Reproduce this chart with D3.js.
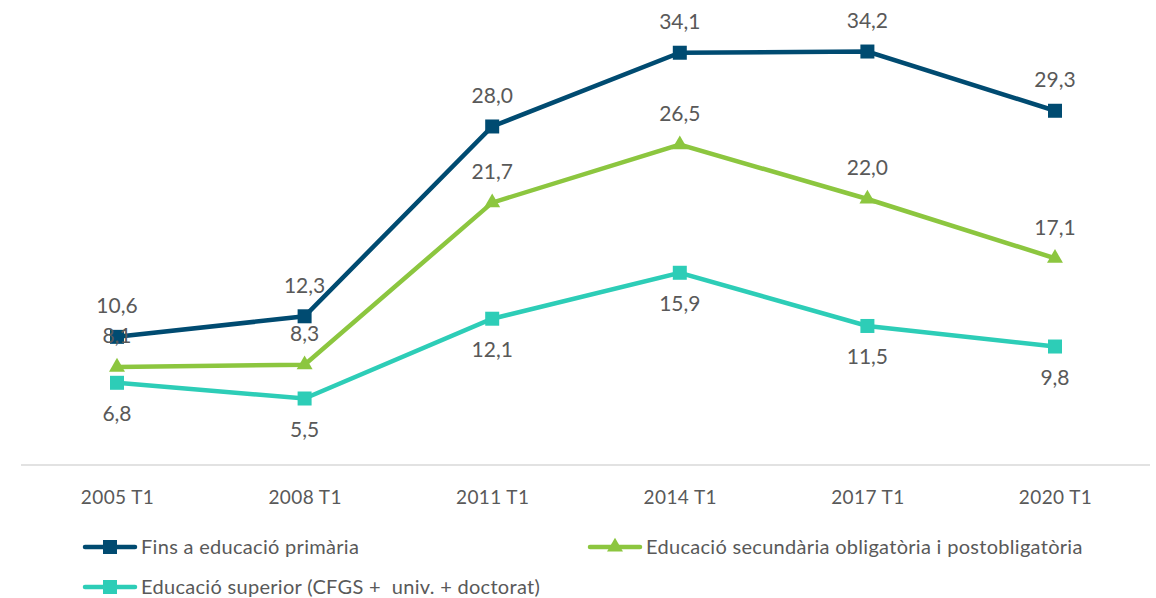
<!DOCTYPE html>
<html>
<head>
<meta charset="utf-8">
<script src="https://cdn.jsdelivr.net/npm/d3@7"></script>
<style>
  body { margin: 0; background: #fff; }
  text { font-family: Lato, "Open Sans", sans-serif; fill: #595959; }
</style>
</head>
<body>
<script>
var categories = ["2005 T1", "2008 T1", "2011 T1", "2014 T1", "2017 T1", "2020 T1"];
var primaria = [10.6, 12.3, 28.0, 34.1, 34.2, 29.3];
var secundaria = [8.1, 8.3, 21.7, 26.5, 22.0, 17.1];
var superior = [6.8, 5.5, 12.1, 15.9, 11.5, 9.8];

var seriesNames = [
  "Fins a educació primària",
  "Educació secundària obligatòria i postobligatòria",
  "Educació superior (CFGS +  univ. + doctorat)"
];

var width = 1156,
    height = 598;

var svg = d3.select("body").append("svg")
    .attr("width", width)
    .attr("height", height);

var x = d3.scalePoint()
    .domain(categories)
    .range([117, 1055]);

var y = d3.scaleLinear()
    .domain([0, 38])
    .range([465, 465 - 38 * 12.09]);

var fmt = function(v) { return d3.format(".1f")(v).replace(".", ","); };

// axis line
svg.append("line")
    .attr("x1", 21).attr("x2", 1150)
    .attr("y1", y(0)).attr("y2", y(0))
    .attr("stroke", "#d9d9d9")
    .attr("stroke-width", 1.5);

var xAxis = svg.append("g")
    .attr("transform", "translate(0," + y(0) + ")")
    .attr("font-family", null)
    .call(d3.axisBottom(x).tickSize(0).tickPadding(26));
xAxis.select(".domain").remove();
xAxis.selectAll("text")
    .style("font-size", "19px")
    .style("letter-spacing", "0.4px")
    .style("fill", "#595959");

var series = [
  { name: seriesNames[0], values: primaria, color: "#004b71", marker: "square", labelPos: [-1, -1, -1, -1, -1, -1] },
  { name: seriesNames[1], values: secundaria, color: "#8cc63f", marker: "triangle", labelPos: [-1, -1, -1, -1, -1, -1] },
  { name: seriesNames[2], values: superior, color: "#2dcdb7", marker: "square", labelPos: [1, 1, 1, 1, 1, 1] }
];

var line = d3.line()
    .x(function(d, i) { return x(categories[i]); })
    .y(function(d) { return y(d); });

function marker(g, type, color) {
  if (type === "square") {
    g.append("rect")
      .attr("x", -7).attr("y", -7)
      .attr("width", 14).attr("height", 14)
      .attr("fill", color);
  } else {
    g.append("path")
      .attr("d", d3.symbol().type(d3.symbolTriangle).size(110)())
      .attr("fill", color);
  }
}

// draw back to front so primària sits on top
series.slice().reverse().forEach(function(s) {
  svg.append("path")
    .datum(s.values)
    .attr("d", line)
    .attr("fill", "none")
    .attr("stroke", s.color)
    .attr("stroke-width", 4.5);

  s.values.forEach(function(v, i) {
    var g = svg.append("g")
      .attr("transform", "translate(" + x(categories[i]) + "," + y(v) + ")");
    marker(g, s.marker, s.color);
  });
});

series.forEach(function(s) {
  svg.selectAll(null)
    .data(s.values)
    .enter().append("text")
    .attr("x", function(d, i) { return x(categories[i]); })
    .attr("y", function(d, i) { return y(d) + s.labelPos[i] * 31; })
    .attr("dy", "0.35em")
    .attr("text-anchor", "middle")
    .style("font-size", "21px")
    .text(fmt);
});

// legend
var legend = [
  { s: series[0], x: 85, y: 547 },
  { s: series[1], x: 590, y: 547 },
  { s: series[2], x: 85, y: 587 }
];
legend.forEach(function(l) {
  var g = svg.append("g").attr("transform", "translate(" + l.x + "," + l.y + ")");
  g.append("line")
    .attr("x1", 0).attr("x2", 50)
    .attr("stroke", l.s.color)
    .attr("stroke-width", 4.5)
    .attr("stroke-linecap", "round");
  var m = g.append("g").attr("transform", "translate(25,0)");
  marker(m, l.s.marker, l.s.color);
  g.append("text")
    .attr("x", 56)
    .attr("dy", "0.35em")
    .style("font-size", "20px")
    .style("letter-spacing", "0.3px")
    .style("white-space", "pre")
    .text(l.s.name);
});
</script>
</body>
</html>
